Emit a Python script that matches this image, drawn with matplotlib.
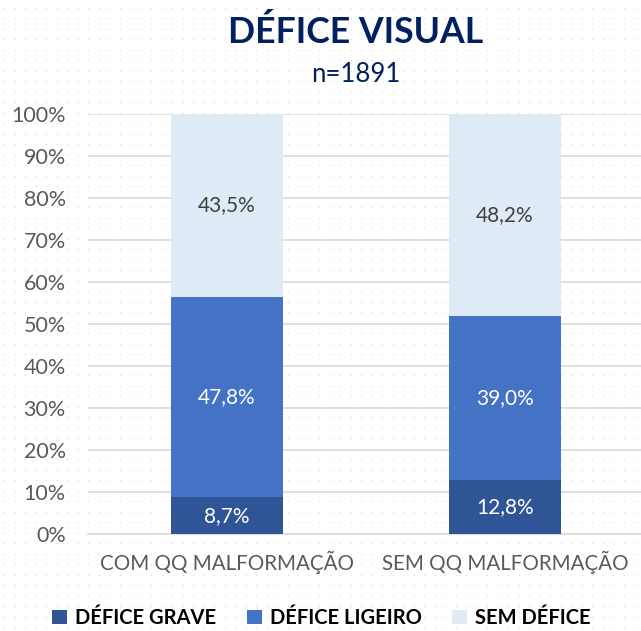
import matplotlib.pyplot as plt
import numpy as np

categories = ['COM QQ MALFORMAÇÃO', 'SEM QQ MALFORMAÇÃO']
series_names = ['DÉFICE GRAVE', 'DÉFICE LIGEIRO', 'SEM DÉFICE']
grave = [8.7, 12.8]
ligeiro = [47.8, 39.0]
sem = [43.5, 48.2]

colors = ['#2F5597', '#4472C4', '#DEEBF7']
label_colors = ['white', 'white', '#404040']

plt.rcParams['font.family'] = ['Lato', 'DejaVu Sans']

fig = plt.figure(figsize=(6.41, 6.31), dpi=100)

# dotted background texture
bg = fig.add_axes([0, 0, 1, 1], zorder=-10)
gx, gy = np.meshgrid(np.arange(4, 641, 10.5), np.arange(4, 631, 10.5))
bg.scatter(gx.ravel(), gy.ravel(), s=0.6, color='#D0D0D0', linewidths=0)
bg.set_xlim(0, 641)
bg.set_ylim(0, 631)
bg.axis('off')

ax = fig.add_axes([88 / 641, 97 / 631, 556 / 641, 420 / 631])
ax.patch.set_alpha(0)

x = np.arange(len(categories))
width = 0.4
bottom = np.zeros(len(categories))
for vals, name, c, lc in zip([grave, ligeiro, sem], series_names, colors, label_colors):
    vals = np.array(vals)
    ax.bar(x, vals, width, bottom=bottom, color=c, label=name, zorder=3)
    for xi, v, b in zip(x, vals, bottom):
        ax.text(xi, b + v / 2, f'{v:.1f}%'.replace('.', ','), ha='center', va='center',
                color=lc, fontsize=15, zorder=4)
    bottom += vals

ax.set_xlim(-0.5, 1.5)
ax.set_ylim(0, 100)
ax.set_yticks(np.arange(0, 101, 10))
ax.set_yticklabels([f'{t}%' for t in range(0, 101, 10)])
ax.set_xticks(x)
ax.set_xticklabels(categories)
ax.tick_params(axis='y', length=0, labelsize=15.5, labelcolor='#595959', pad=16)
ax.tick_params(axis='x', length=0, labelsize=14.8, labelcolor='#595959', pad=12)
ax.grid(axis='y', color='#D9D9D9', linewidth=1.2, zorder=0)
for s in ['top', 'right', 'left']:
    ax.spines[s].set_visible(False)
ax.spines['bottom'].set_color('#D9D9D9')
ax.spines['bottom'].set_linewidth(1.2)

fig.text(356 / 641, 1 - 32 / 631, 'DÉFICE VISUAL', ha='center', va='center',
         fontsize=25.7, fontweight='bold', color='#002060')
fig.text(356 / 641, 1 - 75 / 631, 'n=1891', ha='center', va='center',
         fontsize=18.5, color='#002060')

leg = fig.legend(loc='center left', bbox_to_anchor=(34 / 641, 1 - 618 / 631), ncol=3,
                 frameon=False, prop={'weight': 'bold', 'size': 14.5},
                 handlelength=0.75, handleheight=0.75, handletextpad=0.4, columnspacing=1.5)

fig.savefig('out.png', dpi=100)
